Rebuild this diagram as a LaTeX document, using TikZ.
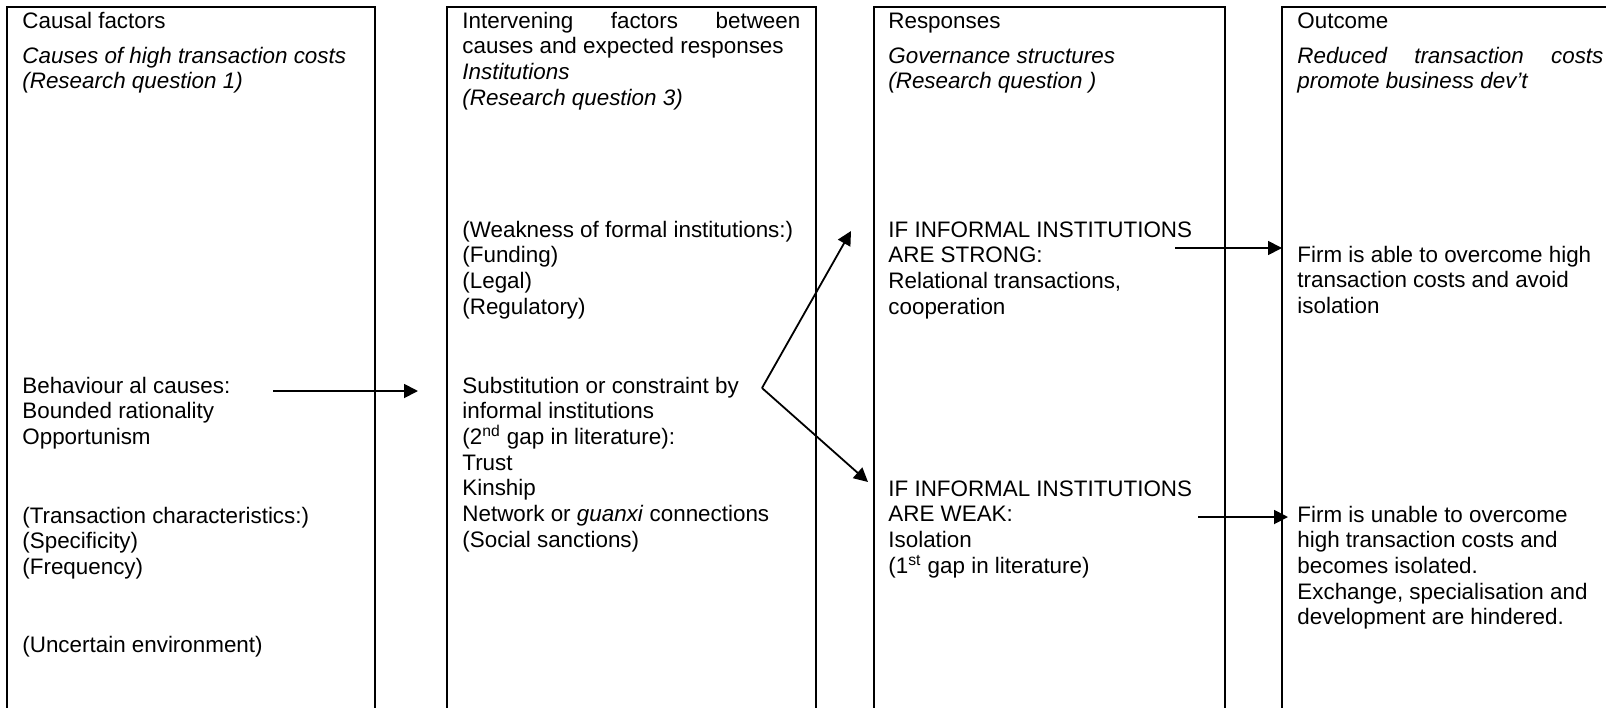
\documentclass[tikz,border=0pt]{standalone}
\usepackage{fontspec}
\setmainfont{Liberation Sans}
\usetikzlibrary{arrows.meta}
\newcommand{\blk}[2]{\parbox[t]{#1}{\fontsize{11.2pt}{12.85pt}\selectfont\raggedright #2}}
\begin{document}
\begin{tikzpicture}[x=0.5pt,y=-0.5pt,
  colline/.style={line width=1pt},
  txt/.style={anchor=base west, inner sep=0pt},
  conn/.style={-{Triangle[length=7pt,width=7pt]}, line width=0.9pt}]
\useasboundingbox (0,0) rectangle (1606,707);
\clip (0,0) rectangle (1606,707);
% column frames
\draw[colline] (7,7) rectangle (375,760);
\draw[colline] (447,7) rectangle (816,760);
\draw[colline] (874,7) rectangle (1225,760);
\draw[colline] (1282,7) rectangle (1660,760);
% column 1
\node[txt] (c1h) at (22,28) {\blk{169pt}{Causal factors}};
\node[txt] (c1s) at (22,63) {\blk{169pt}{\itshape Causes of high transaction costs\\(Research question 1)}};
\node[txt] (c1a) at (22,393) {\blk{169pt}{Behaviour al causes:\\Bounded rationality\\Opportunism}};
\node[txt] (c1b) at (22,523) {\blk{169pt}{(Transaction characteristics:)\\(Specificity)\\(Frequency)}};
\node[txt] (c1c) at (22,652) {\blk{169pt}{(Uncertain environment)}};
% column 2
\node[txt] (c2h) at (462,28) {\blk{169pt}{Intervening\hfill factors\hfill between\\causes and expected responses\\\textit{Institutions}\\\textit{(Research question 3)}}};
\node[txt] (c2a) at (462,237) {\blk{169pt}{(Weakness of formal institutions:)\\(Funding)\\(Legal)\\(Regulatory)}};
\node[txt] (c2b) at (462,393) {\blk{169pt}{Substitution or constraint by\\informal institutions\\(2\textsuperscript{nd} gap in literature):\\Trust\\Kinship\\Network or \textit{guanxi} connections\\(Social sanctions)}};
% column 3
\node[txt] (c3h) at (888,28) {\blk{165pt}{Responses}};
\node[txt] (c3s) at (888,63) {\blk{165pt}{\itshape Governance structures\\(Research question )}};
\node[txt] (c3a) at (888,237) {\blk{165pt}{IF INFORMAL INSTITUTIONS\\ARE STRONG:\\Relational transactions,\\cooperation}};
\node[txt] (c3b) at (888,496) {\blk{165pt}{IF INFORMAL INSTITUTIONS\\ARE WEAK:\\Isolation\\(1\textsuperscript{st} gap in literature)}};
% column 4
\node[txt] (c4h) at (1297,28) {\blk{153pt}{Outcome}};
\node[txt] (c4s) at (1297,63) {\blk{153pt}{\itshape Reduced\hfill transaction\hfill costs\\promote business dev’t}};
\node[txt] (c4a) at (1297,262) {\blk{160pt}{Firm is able to overcome high\\transaction costs and avoid\\isolation}};
\node[txt] (c4b) at (1297,522) {\blk{160pt}{Firm is unable to overcome\\high transaction costs and\\becomes isolated.\\Exchange, specialisation and\\development are hindered.}};
% connector end points
\coordinate (a1s) at (273,391);
\coordinate (a1e) at (418,391);
\coordinate (fork) at (762,388);
\coordinate (upt) at (851,231);
\coordinate (dnt) at (868,482);
\coordinate (a4s) at (1175,248);
\coordinate (a4e) at (1282,248);
\coordinate (a5s) at (1198,517);
\coordinate (a5e) at (1288,517);
% connectors
\draw[conn] (a1s) -- (a1e);
\draw[conn] (fork) -- (upt);
\draw[conn] (fork) -- (dnt);
\draw[conn] (a4s) -- (a4e);
\draw[conn] (a5s) -- (a5e);
\end{tikzpicture}
\end{document}
